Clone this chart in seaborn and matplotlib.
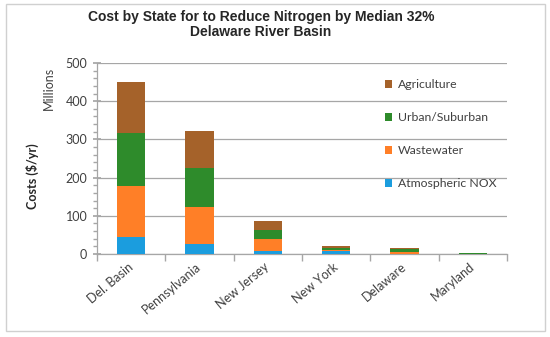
import numpy as np
import pandas as pd
import seaborn as sns
import matplotlib
matplotlib.use("Agg")
import matplotlib.pyplot as plt
from matplotlib.patches import Rectangle
from matplotlib.ticker import MultipleLocator

categories = ["Del. Basin", "Pennsylvania", "New Jersey", "New York", "Delaware", "Maryland"]
atmospheric = [45, 27, 8, 9, 1, 0.3]
wastewater = [132, 96, 31, 1, 3, 0.5]
urban = [139, 101, 24, 7, 9, 0.7]
agriculture = [133, 98, 23, 3, 3, 2.0]

series_names = ["Atmospheric NOX", "Wastewater", "Urban/Suburban", "Agriculture"]
series_values = [atmospheric, wastewater, urban, agriculture]
series_colors = ["#1B9DDE", "#FF7F27", "#2E8B2B", "#A5622A"]

sns.set_theme(style="white")
plt.rcParams["font.family"] = ["Lato", "DejaVu Sans"]

fig = plt.figure(figsize=(5.5, 3.37), dpi=100)
ax = fig.add_axes([97/550, 83/337, 410/550, 191/337])

# cumulative stacks drawn from top down
cum = np.cumsum(np.array(series_values, dtype=float), axis=0)
for i in range(len(series_names) - 1, -1, -1):
    df = pd.DataFrame({"cat": categories, "val": cum[i]})
    sns.barplot(data=df, x="cat", y="val", color=series_colors[i], width=0.41,
                saturation=1, ax=ax, label=series_names[i], zorder=3, linewidth=0)

ax.set_xlim(-0.5, len(categories) - 0.5)
ax.set_ylim(0, 500)
ax.yaxis.set_major_locator(MultipleLocator(100))
ax.yaxis.set_minor_locator(MultipleLocator(20))
ax.grid(axis="y", color="#A6A6A6", linewidth=0.9, zorder=0)
ax.set_axisbelow(True)
for s in ["top", "right"]:
    ax.spines[s].set_visible(False)
for s in ["left", "bottom"]:
    ax.spines[s].set_color("#A6A6A6")
    ax.spines[s].set_linewidth(0.9)

ax.set_xlabel("")
ax.set_ylabel("")
ax.set_xticks(np.arange(len(categories)))
ax.set_xticklabels(categories, rotation=40, ha="right", va="center",
                   rotation_mode="anchor", fontsize=9, color="#404040")
ax.tick_params(axis="x", length=0, pad=8)
# boundary ticks on x axis
ax.set_xticks(np.arange(-0.5, len(categories)), minor=True)
ax.tick_params(axis="x", which="minor", length=5, color="#A6A6A6", direction="out", bottom=True)
ax.tick_params(axis="y", which="major", length=6, color="#A6A6A6", direction="inout",
               labelsize=9, labelcolor="#404040", pad=4, left=True)
ax.tick_params(axis="y", which="minor", length=3, color="#A6A6A6", direction="out", left=True)

handles, labels = ax.get_legend_handles_labels()
leg = ax.legend(handles, labels, loc="upper left", bbox_to_anchor=(0.69, 0.94),
                frameon=False, fontsize=8.8, handlelength=0.6, handleheight=0.6,
                handletextpad=0.45, labelspacing=1.8, borderaxespad=0)
for t in leg.get_texts():
    t.set_color("#404040")

fig.text(261/550, 1 - 17/337, "Cost by State for to Reduce Nitrogen by Median 32%",
         ha="center", va="center", fontsize=10, fontweight="bold", family="Liberation Sans")
fig.text(261/550, 1 - 32/337, "Delaware River Basin",
         ha="center", va="center", fontsize=10, fontweight="bold", family="Liberation Sans")
fig.text(32/550, 1 - 176/337, "Costs ($/yr)", rotation=90, ha="center", va="center",
         fontsize=9, fontweight="bold", color="#262626")
fig.text(49/550, 1 - 88/337, "Millions", rotation=90, ha="center", va="center",
         fontsize=9, color="#404040")

fig.patches.append(Rectangle((6/550, 1 - 331/337), 539/550, 327/337, transform=fig.transFigure,
                             fill=False, edgecolor="#D0D0D0", linewidth=1))

fig.savefig("out.png", dpi=100)
